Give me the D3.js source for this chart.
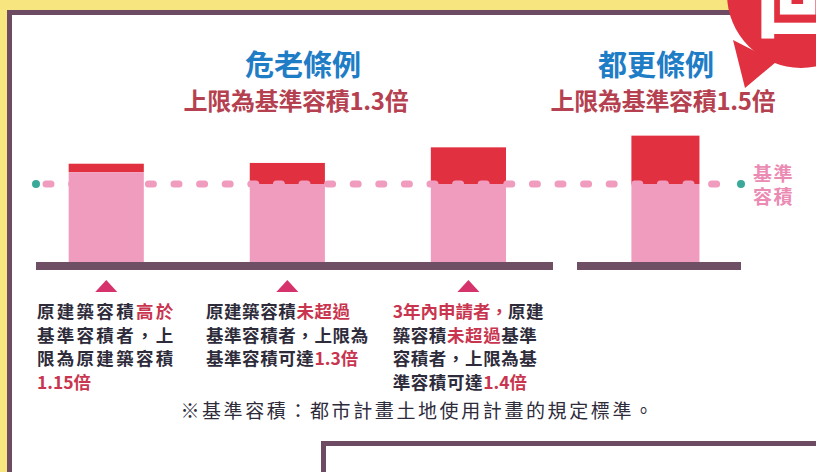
<!DOCTYPE html>
<html>
<head>
<meta charset="utf-8">
<script src="https://cdn.jsdelivr.net/npm/d3@7"></script>
<style>
  body { margin: 0; background: #f7e680; }
  svg { display: block; font-family: "Noto Sans CJK TC", "Noto Sans CJK SC", sans-serif; }
</style>
</head>
<body>
<svg id="drawing_region"></svg>
<script>
// 兩組條例
const groups = ['危老條例', '都更條例'];
const subtitles = ['上限為基準容積1.3倍', '上限為基準容積1.5倍'];
// 每組的柱子
const groupBars = [['高於基準', '未超過基準', '3年內申請'], ['都更']];
// 原容積(粉紅) 與 上限(紅) — 以基準容積 = 1
const baseValues = [1.15, 1.0, 1.0, 1.0];
const capValues = [1.26, 1.27, 1.47, 1.62];
const refValue = 1.0;
const refLabel = ['基準', '容積'];

// 說明文字, [文字, 是否強調]
const notes = [
    [ [['原建築容積', 0], ['高於', 1]],
      [['基準容積者，上', 0]],
      [['限為原建築容積', 0]],
      [['1.15倍', 1]] ],
    [ [['原建築容積', 0], ['未超過', 1]],
      [['基準容積者，上限為', 0]],
      [['基準容積可達', 0], ['1.3倍', 1]] ],
    [ [['3年內申請者，', 1], ['原建', 0]],
      [['築容積', 0], ['未超過', 1], ['基準', 0]],
      [['容積者，上限為基', 0]],
      [['準容積可達', 0], ['1.4倍', 1]] ]
];
const footnote = '※基準容積：都市計畫土地使用計畫的規定標準。';

const config = {
    parent: '#drawing_region',
    width: 816,
    height: 472,
    grounds: [[36, 553], [577, 741]],
    groundY: 262,
    refY: 184
};

const color = {
    yellow: '#f7e680', frame: '#6d4b62', pink: '#f09cbf', red: '#e1303f',
    ground: '#6e4f63', teal: '#3aa99a', tri: '#d6336c', blue: '#1f7dc6',
    sub: '#b5404f', text: '#2e2b3b', hi: '#c9354f', label: '#eb8ab3'
};

const svg = d3.select(config.parent)
    .attr('width', config.width)
    .attr('height', config.height);

// 背景與外框
svg.append('rect').attr('width', config.width).attr('height', config.height).attr('fill', color.yellow);
svg.append('rect')
    .attr('x', 9.5).attr('y', 12.5)
    .attr('width', 900).attr('height', 600)
    .attr('fill', '#fff').attr('stroke', color.frame).attr('stroke-width', 5);
svg.append('rect')
    .attr('x', 323.5).attr('y', 443.5)
    .attr('width', 600).attr('height', 100)
    .attr('fill', '#fff').attr('stroke', color.frame).attr('stroke-width', 5);

// 右上角紅色對話框
svg.append('circle').attr('cx', 801).attr('cy', -6).attr('r', 74).attr('fill', color.red);
svg.append('path').attr('d', 'M733,40 L776,62 L745,88 Z').attr('fill', color.red);
svg.append('text')
    .attr('x', 756).attr('y', 30)
    .style('font-size', '84px').style('font-weight', 900)
    .attr('fill', '#fff')
    .text('回');

// 比例尺
const yscale = d3.scaleLinear()
    .domain([0, refValue])
    .range([config.groundY, config.refY]);

const bandOpts = [
    { pi: 0.585, po: 0.22, align: 0.41 },
    { pi: 0.585, po: 0.2524, align: 0.567 }
];
const xscales = groupBars.map((bars, gi) => d3.scaleBand()
    .domain(bars)
    .range(config.grounds[gi])
    .paddingInner(bandOpts[gi].pi)
    .paddingOuter(bandOpts[gi].po)
    .align(bandOpts[gi].align));

const barData = [];
groupBars.forEach((bars, gi) => bars.forEach(b => {
    const i = barData.length;
    barData.push({ key: b, group: gi, base: baseValues[i], cap: capValues[i] });
}));
barData.forEach(d => {
    const xs = xscales[d.group];
    d.x = xs(d.key);
    d.w = xs.bandwidth();
    d.cx = d.x + d.w / 2;
});

const chart = svg.append('g');

// 紅色上限部分
chart.selectAll('rect.cap')
    .data(barData)
    .join('rect')
    .attr('class', 'cap')
    .attr('x', d => d.x)
    .attr('y', d => yscale(d.cap))
    .attr('width', d => d.w)
    .attr('height', d => yscale(d.base) - yscale(d.cap))
    .attr('fill', color.red);

// 粉紅原容積部分
chart.selectAll('rect.base')
    .data(barData)
    .join('rect')
    .attr('class', 'base')
    .attr('x', d => d.x)
    .attr('y', d => yscale(d.base))
    .attr('width', d => d.w)
    .attr('height', d => yscale(0) - yscale(d.base))
    .attr('fill', color.pink);

// 地面
chart.selectAll('rect.ground')
    .data(config.grounds)
    .join('rect')
    .attr('class', 'ground')
    .attr('x', d => d[0])
    .attr('y', yscale(0))
    .attr('width', d => d[1] - d[0])
    .attr('height', 8)
    .attr('fill', color.ground);

// 基準容積虛線
const refX0 = config.grounds[0][0], refX1 = config.grounds[1][1];
chart.append('line')
    .attr('x1', refX0 + 10).attr('x2', refX1 - 22)
    .attr('y1', yscale(refValue)).attr('y2', yscale(refValue))
    .attr('stroke', color.pink)
    .attr('stroke-width', 7)
    .attr('stroke-linecap', 'round')
    .attr('stroke-dasharray', '5 20.6');
chart.selectAll('circle.end')
    .data([refX0, refX1])
    .join('circle')
    .attr('class', 'end')
    .attr('cx', d => d).attr('cy', yscale(refValue))
    .attr('r', 4)
    .attr('fill', color.teal);
chart.selectAll('text.ref')
    .data(refLabel)
    .join('text')
    .attr('class', 'ref')
    .attr('x', refX1 + 12)
    .attr('y', (d, i) => yscale(refValue) - 3 + i * 23)
    .attr('fill', color.label)
    .style('font-size', '19px').style('font-weight', 700)
    .style('letter-spacing', '1.5px')
    .text(d => d);

// 標題
const titleX = [303, 656];
groups.forEach((g, gi) => {
    svg.append('text')
        .attr('x', titleX[gi]).attr('y', 76)
        .attr('text-anchor', 'middle')
        .attr('fill', color.blue)
        .style('font-size', '29px').style('font-weight', 700)
        .text(g);
    svg.append('text')
        .attr('x', titleX[gi] - 7 + gi * 14).attr('y', 110)
        .attr('text-anchor', 'middle')
        .attr('fill', color.sub)
        .style('font-size', '24px').style('font-weight', 700)
        .style('letter-spacing', '-0.3px')
        .text(subtitles[gi]);
});

// 三角形指標
const tri = 11;
chart.selectAll('path.tri')
    .data(barData.filter(d => d.group === 0))
    .join('path')
    .attr('class', 'tri')
    .attr('d', d => `M${d.cx - tri},292 L${d.cx + tri},292 L${d.cx},280 Z`)
    .attr('fill', color.tri);

// 說明文字
const spacing = ['2.3px', '0.6px', '0.6px'];
notes.forEach((lines, ni) => {
    const d = barData[ni];
    const g = svg.append('g');
    lines.forEach((segs, li) => {
        const t = g.append('text')
            .attr('y', 318 + li * 23.5)
            .style('font-size', '17.5px').style('font-weight', 700)
            .style('letter-spacing', spacing[ni]);
        segs.forEach(s => {
            t.append('tspan')
                .attr('fill', s[1] ? color.hi : color.text)
                .style('letter-spacing', /^[\d.]/.test(s[0]) ? '0px' : null)
                .text(s[0]);
        });
    });
    let maxw = 0;
    g.selectAll('text').each(function () { maxw = Math.max(maxw, this.getComputedTextLength()); });
    g.selectAll('text').attr('x', d.cx - maxw / 2);
});

svg.append('text')
    .attr('x', 418).attr('y', 418)
    .attr('text-anchor', 'middle')
    .attr('fill', color.text)
    .style('font-size', '19px')
    .style('letter-spacing', '2.6px')
    .text(footnote);
</script>
</body>
</html>
